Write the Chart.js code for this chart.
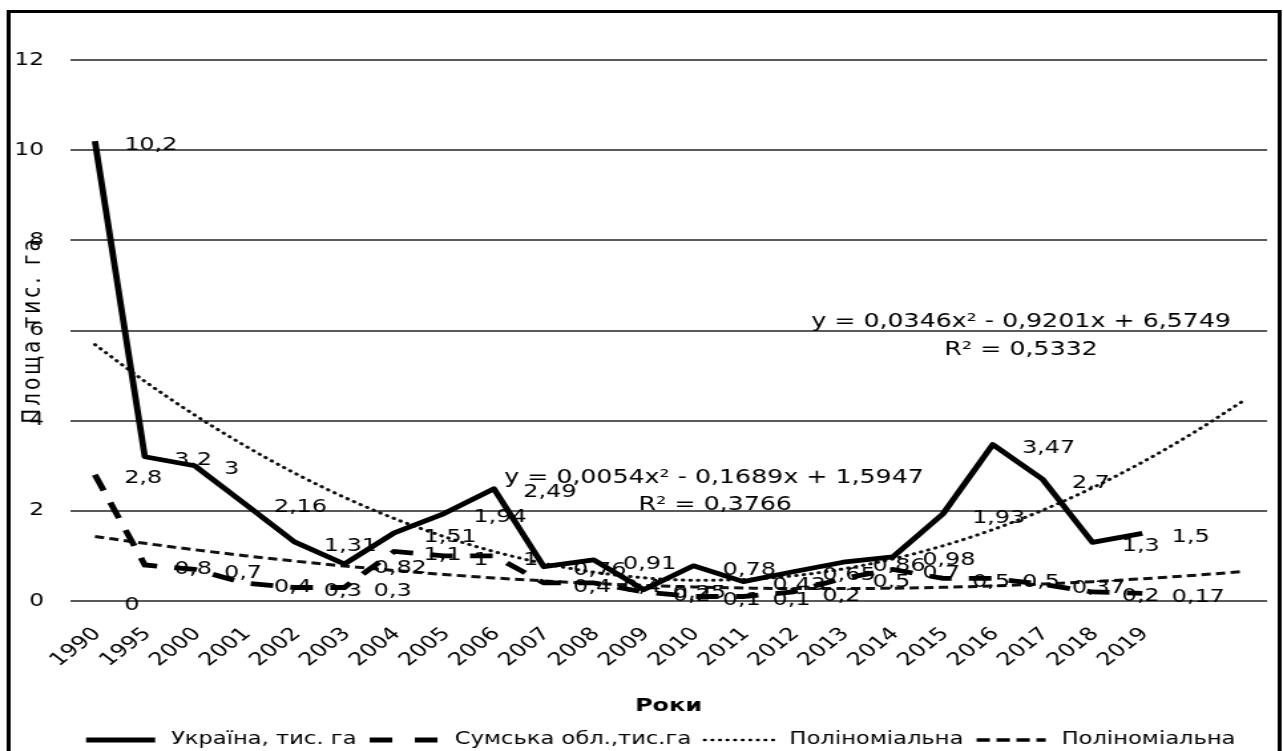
<!DOCTYPE html>
<html>
<head>
<meta charset="utf-8">
<script src="https://cdn.jsdelivr.net/npm/chart.js@4.4.1/dist/chart.umd.min.js"></script>
<style>
html,body{margin:0;padding:0;background:#fff;overflow:hidden;width:1283px;height:751px}
#wrap{position:absolute;left:0;top:0;width:965px;height:770px;transform:scaleX(1.3295);transform-origin:0 0}
canvas{display:block}
</style>
</head>
<body>
<div id="wrap"><canvas id="c" width="965" height="770"></canvas></div>
<script>
// ---- data ----
const categories = ['1990','1995','2000','2001','2002','2003','2004','2005','2006','2007','2008','2009','2010','2011','2012','2013','2014','2015','2016','2017','2018','2019','',''];
const ukraine = [10.2, 3.2, 3, 2.16, 1.31, 0.82, 1.51, 1.94, 2.49, 0.76, 0.91, 0.25, 0.78, 0.43, 0.65, 0.86, 0.98, 1.93, 3.47, 2.7, 1.3, 1.5];
const sumy = [2.8, 0.8, 0.7, 0.4, 0.3, 0.3, 1.1, 1, 1, 0.4, 0.4, 0.2, 0.1, 0.1, 0.2, 0.5, 0.7, 0.5, 0.5, 0.37, 0.2, 0.17];
const ukraineTrend = [5.689, 4.873, 4.126, 3.448, 2.839, 2.300, 1.830, 1.429, 1.097, 0.834, 0.640, 0.516, 0.461, 0.475, 0.558, 0.711, 0.933, 1.224, 1.584, 2.013, 2.511, 3.079, 3.716, 4.422];
const sumyTrend = [1.431, 1.279, 1.137, 1.006, 0.885, 0.776, 0.677, 0.589, 0.512, 0.446, 0.390, 0.346, 0.312, 0.289, 0.276, 0.275, 0.284, 0.304, 0.335, 0.377, 0.429, 0.493, 0.567, 0.652];
const extraLabel = [0];
const seriesNames = ['Україна, тис. га', 'Сумська обл.,тис.га', 'Поліноміальна', 'Поліноміальна'];
const yTitle = 'Площа тис. га';
const xTitle = 'Роки';
const equations = [
  ['y = 0,0346x² - 0,9201x + 6,5749', 'R² = 0,5332'],
  ['y = 0,0054x² - 0,1689x + 1,5947', 'R² = 0,3766']
];
const yMin = 0, yMax = 12, yStep = 2;

const FONT = '"DejaVu Sans", Verdana, sans-serif';

const framePlugin = {
  id: 'frame',
  beforeDraw(chart) {
    const ctx = chart.ctx;
    ctx.save();
    ctx.fillStyle = '#fff';
    ctx.fillRect(0, 0, chart.width, chart.height);
    ctx.strokeStyle = '#000';
    ctx.lineWidth = 3;
    ctx.strokeRect(6.5, 11.5, 956, 820);
    ctx.restore();
  }
};

const valueLabelPlugin = {
  id: 'valueLabels',
  afterDatasetsDraw(chart) {
    const ctx = chart.ctx;
    ctx.save();
    ctx.font = '18px ' + FONT;
    ctx.fillStyle = '#000';
    ctx.textAlign = 'left';
    ctx.textBaseline = 'middle';
    chart.data.datasets.forEach((ds, di) => {
      if (!ds.showValues) return;
      const meta = chart.getDatasetMeta(di);
      meta.data.forEach((pt, i) => {
        const v = ds.data[i];
        if (v === null || v === undefined) return;
        ctx.fillText(String(v).replace('.', ','), pt.x + 22, pt.y + 4);
      });
    });
    ctx.restore();
  }
};

// rotated category labels, placed with the x scale
const xLabelPlugin = {
  id: 'xLabels',
  afterDraw(chart) {
    const ctx = chart.ctx;
    const xs = chart.scales.x;
    ctx.save();
    ctx.font = '18px ' + FONT;
    ctx.fillStyle = '#000';
    ctx.textAlign = 'right';
    ctx.textBaseline = 'middle';
    categories.forEach((lab, i) => {
      if (!lab) return;
      const px = xs.getPixelForValue(i);
      ctx.save();
      ctx.translate(px + 2, xs.top + 30);
      ctx.rotate(-Math.PI / 4);
      ctx.fillText(lab, 0, 0);
      ctx.restore();
    });
    ctx.restore();
  }
};

const legendStyles = [
  { width: 5, dash: [], cap: 'butt' },
  { width: 5, dash: [17, 17], cap: 'butt' },
  { width: 2.6, dash: [0.5, 5.2], cap: 'round' },
  { width: 3.5, dash: [10, 5], cap: 'butt' }
];

const textPlugin = {
  id: 'extraTexts',
  afterDraw(chart) {
    const ctx = chart.ctx;
    ctx.save();
    ctx.fillStyle = '#000';
    ctx.textAlign = 'center';
    ctx.textBaseline = 'middle';
    ctx.font = '19px ' + FONT;
    ctx.fillText(equations[0][0], 768, 322);
    ctx.fillText(equations[0][1], 768, 350);
    ctx.fillText(equations[1][0], 537, 478);
    ctx.fillText(equations[1][1], 538, 505);

    // legend
    ctx.textAlign = 'left';
    ctx.font = '17px ' + FONT;
    let x = 64.7;
    const ly = 740;
    seriesNames.forEach((name, i) => {
      const st = legendStyles[i];
      ctx.save();
      ctx.strokeStyle = '#000';
      ctx.lineWidth = st.width;
      ctx.lineCap = st.cap;
      ctx.setLineDash(st.dash);
      ctx.beginPath();
      ctx.moveTo(x, ly);
      ctx.lineTo(x + 52, ly);
      ctx.stroke();
      ctx.restore();
      x += 52 + 12;
      ctx.fillText(name, x, ly);
      x += ctx.measureText(name).width + 10;
    });

    // y axis title
    ctx.textAlign = 'center';
    ctx.translate(25, 330);
    ctx.rotate(-Math.PI / 2);
    ctx.font = '20px ' + FONT;
    try { ctx.letterSpacing = '3px'; } catch (e) {}
    ctx.fillText(yTitle, 0, 0);
    ctx.restore();
  }
};

new Chart(document.getElementById('c'), {
  type: 'line',
  data: {
    labels: categories,
    datasets: [
      { label: seriesNames[0], data: ukraine, borderColor: '#000', backgroundColor: '#000', borderWidth: 4.8, pointRadius: 0, tension: 0, showValues: true, borderJoinStyle: 'round' },
      { label: seriesNames[1], data: sumy, borderColor: '#000', backgroundColor: '#000', borderWidth: 4.8, borderDash: [17, 13], pointRadius: 0, tension: 0, showValues: true },
      { label: seriesNames[2], data: ukraineTrend, borderColor: '#111', backgroundColor: '#111', borderWidth: 3, borderDash: [0.5, 5.2], borderCapStyle: 'round', pointRadius: 0, cubicInterpolationMode: 'monotone' },
      { label: seriesNames[3], data: sumyTrend, borderColor: '#111', backgroundColor: '#111', borderWidth: 3, borderDash: [7, 4], pointRadius: 0, cubicInterpolationMode: 'monotone' },
      { label: 'hidden', data: extraLabel, borderWidth: 0, borderColor: 'rgba(0,0,0,0)', pointRadius: 0, showValues: true }
    ]
  },
  options: {
    responsive: false,
    animation: false,
    devicePixelRatio: 1,
    layout: { padding: { left: 0, right: 12, top: 60, bottom: 47.25 } },
    plugins: {
      tooltip: { enabled: false },
      legend: { display: false }
    },
    scales: {
      x: {
        offset: true,
        grid: { display: false, drawTicks: false },
        border: { display: false },
        ticks: { display: false },
        title: {
          display: true, text: xTitle, color: '#000',
          font: { family: FONT, size: 18, weight: 'bold' },
          padding: { top: 0, bottom: 6 }
        },
        afterFit: (s) => { s.height = 121.75; }
      },
      y: {
        min: yMin, max: yMax,
        grid: { color: '#5a5a5a', lineWidth: 2, drawTicks: false },
        border: { display: false },
        ticks: { stepSize: yStep, color: '#000', font: { family: FONT, size: 17.5 }, padding: 19.6 },
        afterFit: (s) => { s.width = 52.65; }
      }
    }
  },
  plugins: [framePlugin, valueLabelPlugin, xLabelPlugin, textPlugin]
});
</script>
</body>
</html>
